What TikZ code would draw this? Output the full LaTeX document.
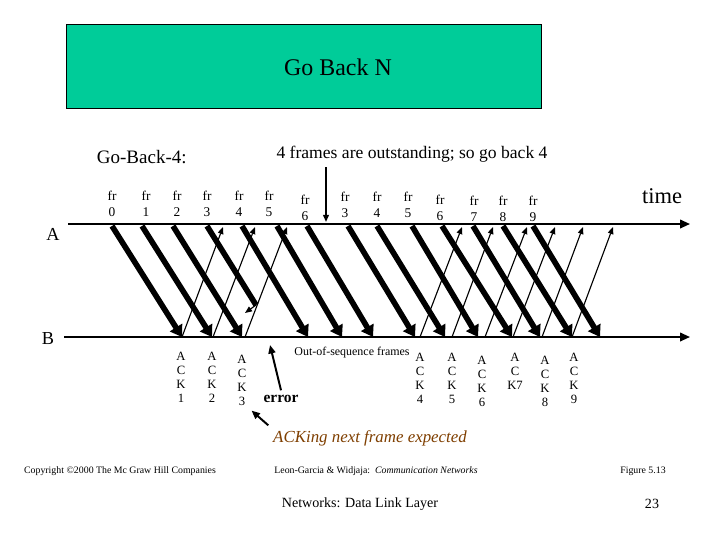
\documentclass[tikz,border=0pt]{standalone}
\usepackage{fontspec}
\setmainfont{Liberation Serif}
\usetikzlibrary{arrows.meta}

\begin{document}
\begin{tikzpicture}[
    x=0.025cm, y=-0.025cm,
    font=\fontsize{9}{10}\selectfont,
    timeline/.style={draw=ink, line width=1.4pt, -{Triangle[length=7pt,width=6pt]}},
    frame/.style={draw=ink, line width=4pt, -{Triangle[length=8pt,width=10pt]}},
    ack/.style={draw=ink, line width=0.8pt, -{Triangle[length=5pt,width=4pt]}},
    pointer/.style={draw=ink, line width=1.4pt, -{Triangle[length=6pt,width=5pt]}},
    frlabel/.style={align=center, text=ink, font=\fontsize{9.5}{11.5}\selectfont},
    acklabel/.style={align=center, anchor=north, text=ink, font=\fontsize{9}{10}\selectfont},
    heading/.style={text=ink, font=\fontsize{12.5}{14}\selectfont},
    foot/.style={text=ink, font=\fontsize{7}{8}\selectfont}
]
\definecolor{ink}{HTML}{000000}
\definecolor{banner}{HTML}{00CC99}
\definecolor{note}{HTML}{7F3F00}

\fill[white] (0,0) rectangle (720,540);
\useasboundingbox (0,0) rectangle (720,540);

% title banner
\draw[draw=ink, fill=banner, line width=0.6pt] (66,24) rectangle (541,108);
\node[text=ink, font=\fontsize{17}{20}\selectfont] (title) at (338,67) {Go Back N};

\node[heading, font=\fontsize{13.5}{15}\selectfont, anchor=west] (gb4) at (92,157) {Go-Back-4:};
\node[heading] (outst) at (412,154) {4 frames are outstanding; so go back 4};

% the two stations
\coordinate (a0) at (68,224);
\coordinate (a1) at (690,224);
\coordinate (b0) at (64,337);
\coordinate (b1) at (690,337);
\draw[timeline] (a0) -- (a1);
\draw[timeline] (b0) -- (b1);
\node[text=ink, font=\fontsize{13}{15}\selectfont] (sta) at (53,234) {A};
\node[text=ink, font=\fontsize{13}{15}\selectfont] (stb) at (48,339) {B};
\node[text=ink, font=\fontsize{16}{18}\selectfont] (time) at (662,196) {time};

% frames: label x, start x on A, end x on B
\foreach \n/\lab/\xl/\yl/\xa/\xb in {
    1/0/112/204/112/182,
    2/1/146/204/142/212,
    3/2/177/204/173/242,
    4/3/207/204/207/276,
    5/4/239/204/242/308,
    6/5/269/204/277/342,
    7/6/305/208/307/373,
    8/3/345/205/348/415,
    9/4/377/205/377/445,
    10/5/408/205/412/478,
    11/6/440/208/442/512,
    12/7/474/209/473/540,
    13/8/503/209/503/572,
    14/9/533/209/533/600} {
  \node[frlabel] (fl\n) at (\xl,\yl) {fr\\\lab};
  \coordinate (fa\n) at (\xa,226);
  \coordinate (fb\n) at (\xb,337);
}
\foreach \n in {1,2,3,5,6,7,8,9,10,11,12,13,14}
  \draw[frame] (fa\n) -- (fb\n);

% frame 3 is lost on the way
\coordinate (lost) at (256,305);
\coordinate (lostend) at (245,313);
\draw[draw=ink, line width=4pt] (fa4) -- (lost);
\draw[ack] (lost) -- (lostend);

% acknowledgements: start x on B, end x on A, label position
\foreach \n/\last/\xb/\xa/\xl/\yl in {
    1/K\\1/182/223/181/347,
    2/K\\2/213/255/212/347,
    3/K\\3/245/287/242/350,
    4/K\\4/420/462/420/348,
    5/K\\5/452/493/452/348,
    6/K\\6/485/527/482/351,
    7/K7/513/555/515/348,
    8/K\\8/542/583/545/351,
    9/K\\9/572/613/574/348} {
  \coordinate (ab\n) at (\xb,337);
  \coordinate (aa\n) at (\xa,227);
  \draw[ack] (ab\n) -- (aa\n);
  \node[acklabel] (al\n) at (\xl,\yl) {A\\C\\\last};
}

% go back arrow from the heading
\coordinate (goback) at (326,222);
\draw[ack, line width=1.2pt] (outst.south -| goback) -- (goback);

\node[text=ink, font=\fontsize{8.5}{10}\selectfont] (oos) at (352,353) {Out-of-sequence frames};
\node[text=ink, font=\bfseries\fontsize{11}{13}\selectfont] (err) at (281,399) {error};
\coordinate (errtip) at (270,345);
\draw[pointer] (err.north) -- (errtip);

\node[text=note, font=\itshape\fontsize{12}{14}\selectfont] (expect) at (370,438) {ACKing next frame expected};
\draw[pointer] (expect.north west) -- (al3.south east);

% footer
\node[foot] (copy) at (120,471) {Copyright \textcopyright 2000 The Mc Graw Hill Companies};
\node[foot] (book) at (376,471) {Leon-Garcia \& Widjaja:\ \ \textit{Communication Networks}};
\node[foot] (fig) at (643,471) {Figure 5.13};
\node[text=ink, font=\fontsize{10}{12}\selectfont] (slide) at (360,504) {Networks: Data Link Layer};
\node[text=ink, font=\fontsize{10}{12}\selectfont] (page) at (652,504) {23};
\end{tikzpicture}
\end{document}
